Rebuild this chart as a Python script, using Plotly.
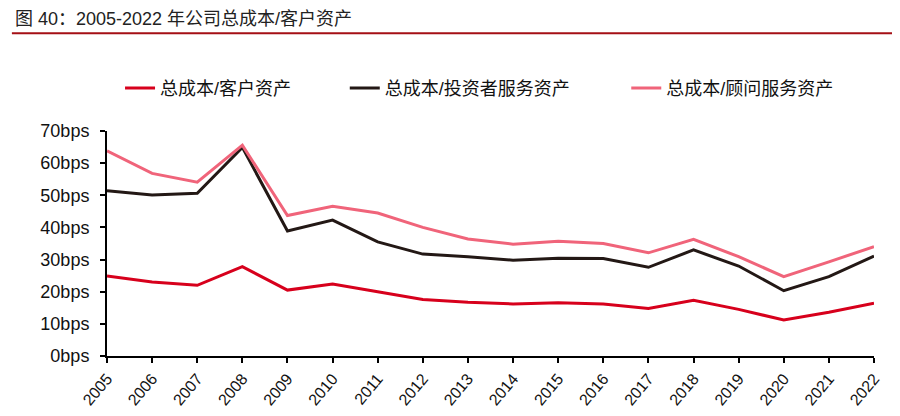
import plotly.graph_objects as go

# 2005-2022 总成本 / 各类资产 (bps)
years = list(range(2005, 2023))
cost_client = [24.9, 23.0, 22.0, 27.8, 20.5, 22.4, 20.0, 17.6, 16.7, 16.2, 16.6, 16.2,
               14.8, 17.3, 14.5, 11.2, 13.6, 16.4]
cost_investor = [51.4, 50.1, 50.6, 64.9, 38.9, 42.3, 35.5, 31.7, 30.9, 29.8, 30.4, 30.3,
                 27.6, 33.0, 28.0, 20.3, 24.7, 31.1]
cost_advisor = [63.8, 56.8, 54.1, 65.6, 43.7, 46.6, 44.5, 40.0, 36.4, 34.8, 35.7, 35.0,
                32.1, 36.3, 30.9, 24.7, 29.3, 34.0]
y_ticks = [0, 10, 20, 30, 40, 50, 60, 70]

font = "Liberation Sans, Noto Sans CJK SC, Arial, sans-serif"

fig = go.Figure()
fig.add_trace(go.Scatter(x=years, y=cost_client, mode="lines", name="总成本/客户资产",
                         line=dict(color="#D7001C", width=3), legend="legend"))
fig.add_trace(go.Scatter(x=years, y=cost_investor, mode="lines", name="总成本/投资者服务资产",
                         line=dict(color="#231815", width=3), legend="legend2"))
fig.add_trace(go.Scatter(x=years, y=cost_advisor, mode="lines", name="总成本/顾问服务资产",
                         line=dict(color="#F0647A", width=3), legend="legend3"))

leg = dict(orientation="h", y=1.19, xanchor="left", yanchor="middle",
           font=dict(size=18), bgcolor="rgba(0,0,0,0)")

# page body adds an 8px offset, so the figure is drawn 8px smaller
fig.update_layout(
    width=892, height=408,
    margin=dict(l=99, r=26, t=123, b=60, autoexpand=False),
    paper_bgcolor="white", plot_bgcolor="white",
    font=dict(family=font, size=15, color="#111111"),
    showlegend=True,
    legend=dict(leg, x=0.017),
    legend2=dict(leg, x=0.310),
    legend3=dict(leg, x=0.677),
    xaxis=dict(range=[2005, 2022], tickmode="array", tickvals=years,
               ticktext=[str(y) for y in years], tickangle=-50,
               showline=True, linecolor="black", linewidth=2,
               ticks="outside", ticklen=5, tickwidth=2, tickcolor="black",
               showgrid=False, zeroline=False, tickfont=dict(size=16)),
    yaxis=dict(range=[0, 70], tickmode="array", tickvals=y_ticks,
               ticktext=[f"{v}bps" for v in y_ticks],
               showline=True, linecolor="black", linewidth=2,
               ticks="outside", ticklen=5, tickwidth=2, tickcolor="black",
               ticklabelstandoff=7,
               showgrid=False, zeroline=False, tickfont=dict(size=18)),
    annotations=[dict(text="图 40：2005-2022 年公司总成本/客户资产", xref="paper", yref="paper",
                      x=-0.1226, y=1.496, xanchor="left", yanchor="middle", showarrow=False,
                      font=dict(size=18, color="#222222"))],
    shapes=[dict(type="line", xref="paper", yref="paper", x0=-0.124, x1=1.034,
                 y0=1.434, y1=1.434, line=dict(color="#A50F15", width=2))],
)

fig.write_html("out.html")
